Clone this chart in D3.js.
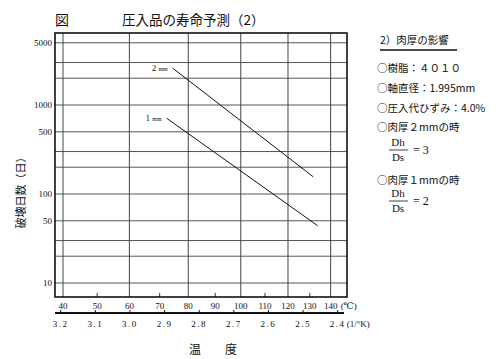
<!DOCTYPE html>
<html>
<head>
<meta charset="utf-8">
<script src="https://cdn.jsdelivr.net/npm/d3@7"></script>
<style>
  body { margin: 0; background: #fff; }
  svg text { fill: #111; }
</style>
</head>
<body>
<div id="chart"></div>
<script>
// chart values
var tempTicks = [40, 50, 60, 70, 80, 90, 100, 110, 120, 130, 140],
    tempGrid = [40, 60, 80, 100, 120, 140],
    invTicks = [3.2, 3.1, 3.0, 2.9, 2.8, 2.7, 2.6, 2.5, 2.4],
    dayGrid = [10, 20, 30, 50, 100, 200, 300, 500, 1000, 2000, 3000, 5000],
    dayLabels = [10, 50, 100, 500, 1000, 5000];

// lines: temperature (deg C) vs days
var line2mm = [{t: 74.5, d: 2590}, {t: 131.6, d: 156}],
    line1mm = [{t: 72.4, d: 710}, {t: 133.7, d: 44}];

var notes = [
    "○樹脂：４０１０",
    "○軸直径：1.995mm",
    "○圧入代ひずみ：4.0%",
    "○肉厚２mmの時",
    "○肉厚１mmの時"
];

var width = 500,
    height = 359,
    frame = {left: 55, right: 347, top: 33, bottom: 297},
    serif = "'Liberation Serif', 'DejaVu Serif', 'Noto Sans CJK JP', serif",
    cjk = "'Noto Sans CJK JP', sans-serif";

let toInv = (t) => 1000 / (t + 273.15);

let svg = d3.select("#chart")
    .append("svg")
    .attr("width", width)
    .attr("height", height);

let x = d3.scaleLinear()
    .domain([3.2, 2.4])
    .range([60.7, 337.7]);

let y = d3.scaleLog()
    .domain([10, 1000])
    .range([283, 105]);

// Title
svg.append("text")
    .attr("x", 55).attr("y", 25)
    .style("font-family", cjk).style("font-size", "14px")
    .text("図");
svg.append("text")
    .attr("x", 122).attr("y", 25)
    .style("font-family", cjk).style("font-size", "13.5px")
    .text("圧入品の寿命予測（2）");

// Grid
svg.append("g")
    .selectAll("line")
    .data(dayGrid)
    .join("line")
    .attr("x1", frame.left).attr("x2", frame.right)
    .attr("y1", d => y(d)).attr("y2", d => y(d))
    .attr("stroke", "#555").attr("stroke-width", 1);

svg.append("g")
    .selectAll("line")
    .data(tempGrid)
    .join("line")
    .attr("x1", d => x(toInv(d))).attr("x2", d => x(toInv(d)))
    .attr("y1", frame.top).attr("y2", frame.bottom)
    .attr("stroke", "#444").attr("stroke-width", 1);

// minor temperature ticks on the bottom frame
svg.append("g")
    .selectAll("line")
    .data(tempTicks.filter(d => tempGrid.indexOf(d) < 0))
    .join("line")
    .attr("x1", d => x(toInv(d))).attr("x2", d => x(toInv(d)))
    .attr("y1", frame.bottom - 4).attr("y2", frame.bottom)
    .attr("stroke", "#333");

// Frame
svg.append("rect")
    .attr("x", frame.left).attr("y", frame.top)
    .attr("width", frame.right - frame.left)
    .attr("height", frame.bottom - frame.top)
    .attr("fill", "none").attr("stroke", "#111").attr("stroke-width", 1.6);

// Y labels
svg.append("g")
    .selectAll("text")
    .data(dayLabels)
    .join("text")
    .attr("x", frame.left - 3)
    .attr("y", d => y(d) + 3)
    .style("text-anchor", "end")
    .style("font-family", serif).style("font-size", "9px")
    .text(d => d);

svg.append("text")
    .attr("transform", "translate(25, 190) rotate(-90)")
    .style("text-anchor", "middle")
    .style("font-family", cjk).style("font-size", "11px")
    .text("破壊日数（日）");

// Temperature labels
svg.append("g")
    .selectAll("text")
    .data(tempTicks)
    .join("text")
    .attr("x", d => x(toInv(d)))
    .attr("y", frame.bottom + 12)
    .style("text-anchor", "middle")
    .style("font-family", serif).style("font-size", "9px")
    .text(d => d);
svg.append("text")
    .attr("x", x(toInv(140)) + 10).attr("y", frame.bottom + 12)
    .style("font-family", serif).style("font-size", "9px")
    .text("(℃)");

// 1/K axis
let invAxis = svg.append("g");
invAxis.append("line")
    .attr("x1", frame.left).attr("x2", 344)
    .attr("y1", 313).attr("y2", 313)
    .attr("stroke", "#111").attr("stroke-width", 1.8);
invAxis.selectAll("line.tick")
    .data(invTicks)
    .join("line")
    .attr("class", "tick")
    .attr("x1", d => x(d)).attr("x2", d => x(d))
    .attr("y1", 310).attr("y2", 313)
    .attr("stroke", "#111");
invAxis.selectAll("text")
    .data(invTicks)
    .join("text")
    .attr("x", d => x(d))
    .attr("y", 327)
    .style("text-anchor", "middle")
    .style("font-family", serif).style("font-size", "9px")
    .style("letter-spacing", "1.5px")
    .text(d => d.toFixed(1));
svg.append("text")
    .attr("x", x(2.4) + 9).attr("y", 327)
    .style("font-family", serif).style("font-size", "9px")
    .text("(1/°K)");

svg.append("text")
    .attr("x", 213).attr("y", 354)
    .style("text-anchor", "middle")
    .style("font-family", cjk).style("font-size", "12px")
    .text("温　　度");

// Lines
let lineGen = d3.line()
    .x(d => x(toInv(d.t)))
    .y(d => y(d.d));

[line2mm, line1mm].forEach(s => {
    svg.append("path")
        .datum(s)
        .attr("d", lineGen)
        .attr("fill", "none")
        .attr("stroke", "#111")
        .attr("stroke-width", 1);
});

let lineLabel = (s, num) => {
    let t = svg.append("text")
        .attr("x", x(toInv(s[0].t)) - 5)
        .attr("y", y(s[0].d) + 3)
        .style("text-anchor", "end")
        .style("font-family", serif).style("font-size", "9px");
    t.append("tspan").text(num + " ");
    t.append("tspan").style("font-size", "6px").text("mm");
};
lineLabel(line2mm, "2");
lineLabel(line1mm, "1");

// Notes on the right
let nx = 380;
svg.append("text")
    .attr("x", nx).attr("y", 44)
    .style("font-family", cjk).style("font-size", "10.5px")
    .text("2）肉厚の影響");
svg.append("line")
    .attr("x1", nx).attr("x2", 457)
    .attr("y1", 50).attr("y2", 50)
    .attr("stroke", "#111").attr("stroke-width", 1.5);

let noteY = [72, 92, 112, 131, 184];
notes.forEach((n, i) => {
    svg.append("text")
        .attr("x", 377).attr("y", noteY[i])
        .style("font-family", cjk).style("font-size", "10.5px")
        .text(n);
});

let fraction = (cy, val) => {
    let g = svg.append("g").style("font-family", serif).style("font-size", "11px");
    g.append("text").attr("x", 398).attr("y", cy - 4).style("text-anchor", "middle").text("Dh");
    g.append("line").attr("x1", 389).attr("x2", 408).attr("y1", cy).attr("y2", cy)
        .attr("stroke", "#111").attr("stroke-width", 0.8);
    g.append("text").attr("x", 398).attr("y", cy + 11).style("text-anchor", "middle").text("Ds");
    g.append("text").attr("x", 413).attr("y", cy + 4).style("font-size", "12px").text("= " + val);
};
fraction(150, 3);
fraction(201, 2);
</script>
</body>
</html>
